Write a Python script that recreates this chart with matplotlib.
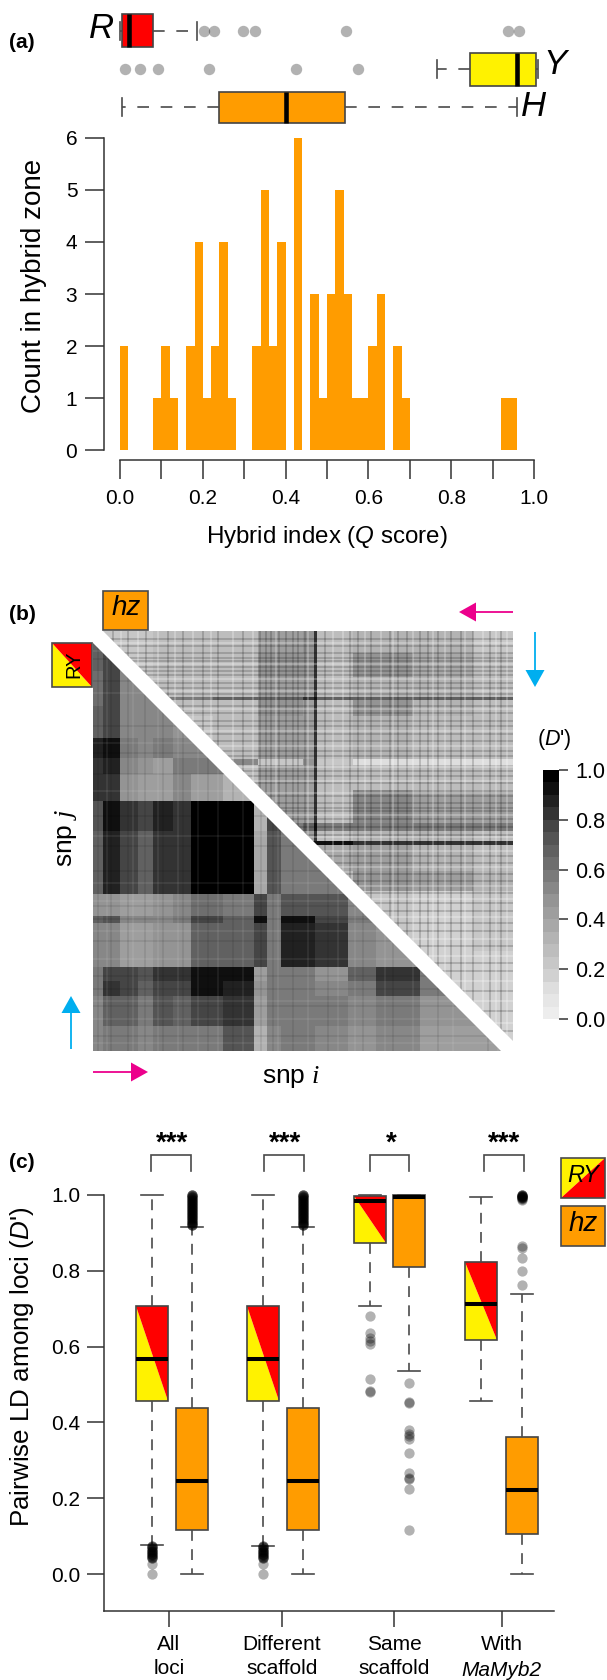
import numpy as np
import matplotlib
matplotlib.use("Agg")
import matplotlib.pyplot as plt
from matplotlib.colors import ListedColormap, BoundaryNorm
from matplotlib.cm import ScalarMappable
from matplotlib.patches import Polygon, Rectangle, FancyArrow

plt.rcParams['font.family'] = ['Liberation Sans', 'DejaVu Sans']
plt.rcParams['mathtext.fontset'] = 'custom'
plt.rcParams['mathtext.rm'] = 'Liberation Sans'
plt.rcParams['mathtext.it'] = 'Liberation Sans:italic'
plt.rcParams['mathtext.bf'] = 'Liberation Serif:italic'

# ---------- data: panel (a) ----------
hist_counts = [2,0,0,0,1,2,1,0,2,4,1,2,4,1,0,0,2,5,2,4,0,6,0,3,1,3,5,3,1,1,2,3,0,2,1,
               0,0,0,0,0,0,0,0,0,0,0,1,1]
hist_bin_width = 0.02
hist_yticks = [0,1,2,3,4,5,6]
hist_xticks = [0,.1,.2,.3,.4,.5,.6,.7,.8,.9,1.0]

R_stats = dict(whislo=0.0, q1=0.004, med=0.022, q3=0.08, whishi=0.185,
               fliers=[.204,.226,.297,.326,.546,.937,.964])
Y_stats = dict(whislo=0.765, q1=0.845, med=0.958, q3=1.005, whishi=1.01,
               fliers=[.011,.048,.092,.215,.426,.576])
H_stats = dict(whislo=0.004, q1=0.238, med=0.402, q3=0.543, whishi=0.958, fliers=[])

# ---------- data: panel (b), estimated block values of D' ----------
lower_col_edges = [0,10,27,45,60,80,98,130,161,174,188,222,255,283,327,370,420]
lower_row_edges = [12,40,75,107,127,143,170,200,263,285,292,336,350,365,395,420]
lower_rows = [
 [.68,.75,.60],
 [.62,.75,.52,.50,.50],
 [.68,.78,.52,.50,.52,.48],
 [.88,.90,.55,.52,.55,.50,.50],
 [.85,.88,.50,.45,.42,.55,.60,.65],
 [.85,.85,.48,.42,.42,.50,.42,.35],
 [.72,.90,.80,.75,.86,.84,.96,.98,.35,.78],
 [.70,.86,.75,.70,.84,.82,.96,.98,.38,.72,.55,.55],
 [.45,.48,.42,.42,.45,.50,.62,.55,.75,.55,.72,.72,.50],
 [.68,.72,.52,.50,.52,.55,.75,.65,.95,.60,.90,.75,.55],
 [.50,.52,.42,.42,.45,.48,.70,.65,.78,.60,.86,.82,.50,.45],
 [.60,.78,.78,.72,.80,.80,.92,.90,.40,.55,.55,.45,.65,.85,.60],
 [.55,.80,.78,.70,.78,.78,.90,.88,.45,.55,.55,.50,.60,.75,.60],
 [.52,.70,.65,.60,.72,.68,.75,.82,.40,.55,.60,.55,.50,.60,.45,.45],
 [.50,.58,.55,.50,.60,.55,.60,.72,.35,.50,.60,.50,.45,.50,.40,.40],
]
upper_col_edges = [10,60,120,165,210,221,224,260,320,380,420]
upper_row_edges = [0,22,46,66,69,85,128,134,159,192,200,210,214,240,260,320,420]
upper_rows = [   # each row lists the cells counted back from the right edge
 [.22,.26,.28,.42,.45,.85,.28,.34,.32,.20],
 [.22,.26,.28,.45,.45,.85,.25,.48,.38,.25],
 [.24,.26,.28,.42,.42,.85,.25,.34,.32,.25],
 [.60,.70,.70,.80,.90,.70,.70,.70,.70],
 [.25,.26,.45,.42,.85,.25,.48,.34,.25],
 [.24,.26,.42,.42,.85,.25,.34,.30,.25],
 [.50,.20,.45,.85,.20,.12,.12,.12],
 [.26,.42,.42,.85,.25,.25,.25,.25],
 [.42,.42,.85,.26,.52,.44,.44],
 [.60,.65,.90,.60,.60,.60,.60],
 [.40,.85,.30,.34,.34,.30],
 [.80,.90,.90,.85,.85,.85],
 [.36,.42,.34,.30],
 [.30,.48,.42,.34],
 [.22,.18,.22],
 [.18,.18],
]
# thin streaks of the picture, as offsets along the snp axes
upper_dark_rows = [8,15,22,27,30,36,40,44,52,57,63,75,82,90,95,103,110,120,125,140,145,152,
                   165,172,177,180,188,196,204,225,232,243,250,262,272,280,292,300,315,332,340,360,380,400]
upper_dark_cols = [20,35,53,75,90,110,125,150,167,173,178,186,193,200,205,212,232,257,265,278,
                   297,305,314,327,335,345,358,368,380,397,408]
upper_light_rows = [12,33,48,60,78,100,115,136,150,162,184,206,220,236,255,268,286,308,325,350,370,392]
upper_light_cols = [28,45,65,82,100,118,140,160,183,215,240,250,272,288,300,320,340,352,372,390,403,414]
lower_dark_rows = [28,50,95,122,143,185,215,240,275,288,310,345,358,375,405]
lower_dark_cols = [5,18,35,52,70,90,115,140,168,180,200,235,270,300,345,395]
lower_light_rows = [20,62,112,160,205,252,270,300,328,370,388,412]
lower_light_cols = [14,40,65,85,105,125,150,185,215,245,262,292,320,360,405]

cbar_gray = [.93,.90,.87,.82,.78,.74,.70,.66,.62,.58,.53,.48,.43,.38,.33,.27,.20,.13,.06,.0]
cbar_ticks = [0,.2,.4,.6,.8,1.0]

# ---------- data: panel (c) ----------
group_labels = ['All\nloci', 'Different\nscaffold', 'Same\nscaffold', 'With']
group_stars = ['***', '***', '*', '***']
c_yticks = [0,.2,.4,.6,.8,1.0]

ry_low_fliers = [0.0,.027,.042,.042,.046,.046,.05,.05,.054,.054,.058,.058,.062,.062,.066,.066,.07,.07,.074,.074]
hz_high_fliers = [.92,.92,.922,.924,.926,.928,.93,.932,.934,.936,.938,.94,.942,.944,.946,.948,.95,.952,
                  .954,.956,.958,.96,.962,.964,.966,.968,.97,.972,.974,.976,.978,.98,.982,.984,.986,
                  .988,.99,.992,.994,.996,.998,1.0,1.0,1.0]

ry_stats = [
 dict(whislo=.0757, q1=.457, med=.567, q3=.707, whishi=1.0, fliers=ry_low_fliers),
 dict(whislo=.0735, q1=.457, med=.567, q3=.707, whishi=1.0, fliers=ry_low_fliers),
 dict(whislo=.708, q1=.873, med=.984, q3=.998, whishi=1.0,
      fliers=[.68,.637,.622,.615,.608,.514,.483,.48]),
 dict(whislo=.456, q1=.618, med=.712, q3=.824, whishi=.995, fliers=[]),
]
hz_stats = [
 dict(whislo=0.0, q1=.116, med=.246, q3=.437, whishi=.916, fliers=hz_high_fliers),
 dict(whislo=0.0, q1=.116, med=.246, q3=.437, whishi=.916, fliers=hz_high_fliers),
 dict(whislo=.536, q1=.81, med=.995, q3=1.0, whishi=1.0,
      fliers=[.504,.454,.452,.38,.37,.365,.356,.318,.267,.252,.25,.224,.116]),
 dict(whislo=0.0, q1=.105, med=.221, q3=.361, whishi=.74,
      fliers=[1.0,1.0,.999,.998,.998,.997,.996,.995,.994,.993,.992,.99,.987,.866,.86,.834,.80,.762]),
]

# ---------- layout and style ----------
W, H = 607, 1680
ORANGE, YELLOW, RED = '#FF9C00', '#FFF200', '#FF0000'
PINK, BLUE = '#EC008C', '#00AEEF'
LINE, EDGE, WHISK = '#333333', '#444444', '#4A4A4A'
FLIER = (0, 0, 0, .30)

fig = plt.figure(figsize=(W/100, H/100), dpi=100, facecolor='white')

def axpx(l, t, r, b):
    return fig.add_axes([l/W, 1-b/H, (r-l)/W, (b-t)/H])

def style_box(art, dash, ms, med_lw=2.9, faces=None):
    for i, b in enumerate(art['boxes']):
        b.set(edgecolor=EDGE, linewidth=1.2, clip_on=False)
        b.set_facecolor(faces[i] if faces else 'none')
    for l in art['whiskers']:
        l.set(color=WHISK, linewidth=1.2, linestyle=(0, dash), clip_on=False)
    for l in art['caps']:
        l.set(color=WHISK, linewidth=1.2, clip_on=False)
    for l in art['medians']:
        l.set(color='black', linewidth=med_lw, solid_capstyle='butt', clip_on=False)
    for l in art['fliers']:
        l.set(marker='o', markerfacecolor=FLIER, markeredgecolor='none', markersize=ms,
              linestyle='none', clip_on=False)

# ---------- (a) boxes ----------
axb = axpx(120, 0, 534, 125)
axb.set_xlim(0, 1)
axb.set_ylim(125, 0)
axb.axis('off')
art = axb.bxp([R_stats, Y_stats, H_stats], positions=[30.5, 69, 107], widths=[33, 33, 31],
              orientation='horizontal', patch_artist=True, capwidths=18, manage_ticks=False)
style_box(art, (7, 7), 8.2, med_lw=3.3, faces=[RED, YELLOW, ORANGE])

# ---------- (a) histogram ----------
ax = axpx(120, 138, 534, 450)
bin_left = np.arange(len(hist_counts)) * hist_bin_width
ax.bar(bin_left, hist_counts, width=hist_bin_width, align='edge', color=ORANGE, linewidth=0)
ax.set_xlim(0, 1)
ax.set_ylim(0, 6)
ax.patch.set_visible(False)
for s in ('top', 'right'):
    ax.spines[s].set_visible(False)
ax.spines['left'].set_position(('outward', 11.5))
ax.spines['bottom'].set_position(('outward', 7.2))
ax.spines['left'].set_bounds(0, 6)
ax.spines['bottom'].set_bounds(0, 1)
for s in ('left', 'bottom'):
    ax.spines[s].set(color=LINE, linewidth=1.1)
ax.set_yticks(hist_yticks)
ax.set_xticks(hist_xticks)
ax.set_xticklabels([f'{v:.1f}' if i % 2 == 0 else '' for i, v in enumerate(hist_xticks)])
ax.tick_params(axis='y', length=13.7, width=1.1, color=LINE, labelsize=15, pad=5.5)
ax.tick_params(axis='x', length=13.7, width=1.1, color=LINE, labelsize=15, pad=7)

# ---------- (b) heat map ----------
cmap = ListedColormap([(g, g, g) for g in cbar_gray])
norm = BoundaryNorm(np.linspace(0, 1, len(cbar_gray)+1), cmap.N)

axh = axpx(93, 631, 513, 1051)
axh.set_xlim(0, 420)
axh.set_ylim(420, 0)
axh.axis('off')

def pad(rows, n, left):
    out = []
    for r in rows:
        fill = [np.nan]*(n-len(r))
        out.append(fill + r if left else r + fill)
    return np.array(out, dtype=float)

lo = pad(lower_rows, len(lower_col_edges)-1, left=False)
up = pad(upper_rows, len(upper_col_edges)-1, left=True)
m1 = axh.pcolormesh(lower_col_edges, lower_row_edges, lo, cmap=cmap, norm=norm, linewidth=0)
m2 = axh.pcolormesh(upper_col_edges, upper_row_edges, up, cmap=cmap, norm=norm, linewidth=0)
lower_tri = Polygon([(0, 12), (408, 420), (0, 420)], transform=axh.transData)
upper_tri = Polygon([(10, 0), (420, 0), (420, 410)], transform=axh.transData)
m1.set_clip_path(lower_tri)
m2.set_clip_path(upper_tri)

def streaks(rows, cols, color, alpha, lw, clip):
    a = axh.hlines(rows, 0, 420, colors=color, alpha=alpha, linewidth=lw)
    b = axh.vlines(cols, 0, 420, colors=color, alpha=alpha, linewidth=lw)
    a.set_clip_path(clip)
    b.set_clip_path(clip)

streaks(upper_dark_rows, upper_dark_cols, 'black', .22, 1.1, upper_tri)
streaks(upper_light_rows, upper_light_cols, 'white', .32, 1.1, upper_tri)
streaks(lower_dark_rows, lower_dark_cols, 'black', .10, 1.1, lower_tri)
streaks(lower_light_rows, lower_light_cols, 'white', .09, 1.1, lower_tri)

cax = axpx(543, 770, 559, 1019)
cb = fig.colorbar(ScalarMappable(norm=norm, cmap=cmap), cax=cax, ticks=cbar_ticks, spacing='proportional')
cb.outline.set_visible(False)
cb.ax.minorticks_off()
cb.ax.tick_params(length=6.5, width=1.1, color=LINE, labelsize=15.5, pad=5)
cb.ax.set_yticklabels([f'{v:.1f}' for v in cbar_ticks])

# ---------- (c) box plots ----------
axc = axpx(104, 1195, 554, 1611)
axc.set_xlim(104, 554)
axc.set_ylim(-0.0976, 1.0)
axc.patch.set_visible(False)
ry_pos = [151.7, 263, 370, 481]
hz_pos = [192, 303, 409, 522]
tick_pos = [169, 282, 394, 502]
for x, st in zip(ry_pos, ry_stats):
    axc.fill([x-16, x-16, x+16], [st['q3'], st['q1'], st['q1']], color=YELLOW, lw=0, zorder=1.5, clip_on=False)
    axc.fill([x-16, x+16, x+16], [st['q3'], st['q3'], st['q1']], color=RED, lw=0, zorder=1.5, clip_on=False)
art = axc.bxp(ry_stats, positions=ry_pos, widths=32, patch_artist=True, capwidths=22, manage_ticks=False)
style_box(art, (6.5, 5), 7.4, faces=None)
art = axc.bxp(hz_stats, positions=hz_pos, widths=32, patch_artist=True, capwidths=22, manage_ticks=False)
style_box(art, (6.5, 5), 7.4, faces=[ORANGE]*4)
for s in ('top', 'right'):
    axc.spines[s].set_visible(False)
for s in ('left', 'bottom'):
    axc.spines[s].set(color=LINE, linewidth=1.1)
axc.set_yticks(c_yticks)
axc.set_yticklabels([f'{v:.1f}' for v in c_yticks])
axc.set_xticks(tick_pos)
axc.set_xticklabels(group_labels, linespacing=1.3)
axc.tick_params(axis='y', length=12.2, width=1.1, color=LINE, labelsize=15, pad=5)
axc.tick_params(axis='x', length=11.5, width=1.1, color=LINE, labelsize=15, pad=6)

# ---------- overlay in figure pixels ----------
ov = axpx(0, 0, W, H)
ov.set_xlim(0, W)
ov.set_ylim(H, 0)
ov.axis('off')
ov.patch.set_visible(False)

def T(x, y, s, size, **kw):
    kw.setdefault('ha', 'center')
    kw.setdefault('va', 'center')
    ov.text(x, y, s, fontsize=size, **kw)

T(22, 43, '(a)', 15, fontweight='bold')
T(22, 614, '(b)', 15, fontweight='bold')
T(22, 1162, '(c)', 15, fontweight='bold')

T(101, 28, 'R', 25, style='italic')
T(555, 65, 'Y', 25, style='italic')
T(534, 107, 'H', 25, style='italic')

T(34, 286, 'Count in hybrid zone', 20, rotation=90)
T(327, 537, 'Hybrid index ($\\mathit{Q}$ score)', 17.4)
T(22, 1367, "Pairwise LD among loci ($\\mathit{D}$')", 18.7, rotation=90)

T(66, 838, 'snp $\\mathbf{j}$', 19, rotation=90)
T(291, 1077, 'snp $\\mathbf{i}$', 19)
T(554, 739, "($\\mathit{D}$')", 15.5)
T(tick_pos[3]-1, 1670, 'MaMyb2', 15, style='italic')

def swatch(l, t, r, b):
    ov.add_patch(Rectangle((l, t), r-l, b-t, facecolor='none', edgecolor=WHISK, linewidth=1.2, zorder=4))

# (b) keys
ov.add_patch(Rectangle((103, 591), 45, 39, facecolor=ORANGE, lw=0))
swatch(103, 591, 148, 630)
T(126, 608, 'hz', 20, style='italic')
ov.add_patch(Polygon([(52, 643), (52, 687), (92, 687)], facecolor=YELLOW, lw=0))
ov.add_patch(Polygon([(52, 643), (92, 643), (92, 687)], facecolor=RED, lw=0))
swatch(52, 643, 92, 687)
T(74, 664, 'RY', 14.5, rotation=90)

# (c) keys
ov.add_patch(Polygon([(561, 1158), (605, 1158), (561, 1198)], facecolor=YELLOW, lw=0))
ov.add_patch(Polygon([(605, 1158), (605, 1198), (561, 1198)], facecolor=RED, lw=0))
swatch(561, 1158, 605, 1198)
T(583, 1176, 'RY', 17, style='italic')
ov.add_patch(Rectangle((561, 1206), 44, 40, facecolor=ORANGE, lw=0))
swatch(561, 1206, 605, 1246)
T(583, 1224, 'hz', 20, style='italic')

# arrows
def arrow(x0, y0, x1, y1, c):
    ov.add_patch(FancyArrow(x0, y0, x1-x0, y1-y0, width=1.8, head_width=19, head_length=17,
                            length_includes_head=True, facecolor=c, edgecolor='none'))
arrow(513, 612, 459, 612, PINK)
arrow(535, 632, 535, 687, BLUE)
arrow(71, 1049, 71, 996, BLUE)
arrow(93, 1072, 148, 1072, PINK)

# brackets and stars
bracket_left = [151, 264, 370, 484]
bracket_right = [191, 304, 409, 524]
star_x = [172, 285, 391, 504]
for l, r, sx, s in zip(bracket_left, bracket_right, star_x, group_stars):
    ov.plot([l, l, r, r], [1171, 1155, 1155, 1171], color=WHISK, lw=1.2, solid_joinstyle='miter')
    T(sx, 1144, s, 20, fontweight='bold')

fig.savefig('out.png', dpi=100, facecolor='white')
